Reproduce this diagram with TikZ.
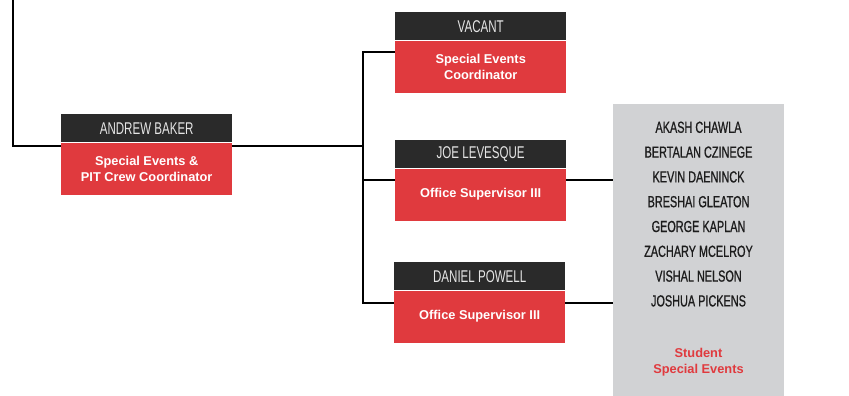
\documentclass[tikz,border=0pt]{standalone}
\usepackage{fontspec}
\setmainfont{Liberation Sans}
\newfontfamily\condfont[FakeStretch=0.68]{Liberation Sans}
\newfontfamily\condheavy[FakeStretch=0.68,FakeBold=0.8]{Liberation Sans}
\definecolor{hdr}{HTML}{2A2A2A}
\definecolor{brand}{HTML}{E03A3E}
\definecolor{panel}{HTML}{D1D2D4}
\definecolor{ink}{HTML}{1C1C1C}

\begin{document}
\begin{tikzpicture}[x=1pt,y=-1pt,
  namebar/.style={fill=hdr, text=white!90!black, minimum width=171pt, minimum height=28pt,
    inner sep=0pt, anchor=north west, font=\condfont\fontsize{17}{17}\selectfont},
  rolebox/.style={fill=brand, text=white, minimum width=171pt, minimum height=52pt,
    inner sep=0pt, align=center, anchor=north, font=\bfseries\fontsize{12.8}{16}\selectfont},
  member/.style={text=ink, inner sep=0pt, font=\condheavy\fontsize{16}{16}\selectfont},
  link/.style={line width=2pt, draw=black}]
\useasboundingbox (0,0) rectangle (849,396);

% team members panel
\node[fill=panel, minimum width=171pt, minimum height=292pt, inner sep=0pt, anchor=north west] (panel) at (613,104) {};
\foreach \nm [count=\i] in {AKASH CHAWLA, BERTALAN CZINEGE, KEVIN DAENINCK, BRESHAI GLEATON,
    GEORGE KAPLAN, ZACHARY MCELROY, VISHAL NELSON, JOSHUA PICKENS}
  \node[member] (m\i) at (698.5, {102.5+24.8*\i}) {\nm};
\node[text=brand, align=center, inner sep=0pt, font=\bfseries\fontsize{12.8}{16}\selectfont]
  (unit) at (698.5,362) {Student\\Special Events};

% people
\node[namebar] (abhdr) at (61,114) {ANDREW BAKER};
\node[rolebox] (abrole) at (abhdr.south) {Special Events \&\\PIT Crew Coordinator};

\node[namebar] (vachdr) at (395,12) {VACANT};
\node[rolebox] (vacrole) at (vachdr.south) {Special Events\\Coordinator};

\node[namebar] (joehdr) at (395,140) {JOE LEVESQUE};
\node[rolebox] (joerole) at (joehdr.south) {Office Supervisor III};

\node[namebar] (danhdr) at (394,262) {DANIEL POWELL};
\node[rolebox] (danrole) at (danhdr.south) {Office Supervisor III};

% reporting lines
\coordinate (up) at (13,0);
\draw[link] (up) |- ([yshift=-4pt]abrole.north west);
\draw[link] ([yshift=-4pt]abrole.north east) -- ++(131,0) coordinate (hub);
\draw[link] (hub) |- ([yshift=-12pt]vacrole.north west);
\draw[link] (hub) |- ([yshift=-12pt]joerole.north west);
\draw[link] (hub) |- ([yshift=-13pt]danrole.north west);
\draw[link] ([yshift=-12pt]joerole.north east) -- ([yshift=-12pt]joerole.north east -| panel.west);
\draw[link] ([yshift=-13pt]danrole.north east) -- ([yshift=-13pt]danrole.north east -| panel.west);
\end{tikzpicture}
\end{document}
